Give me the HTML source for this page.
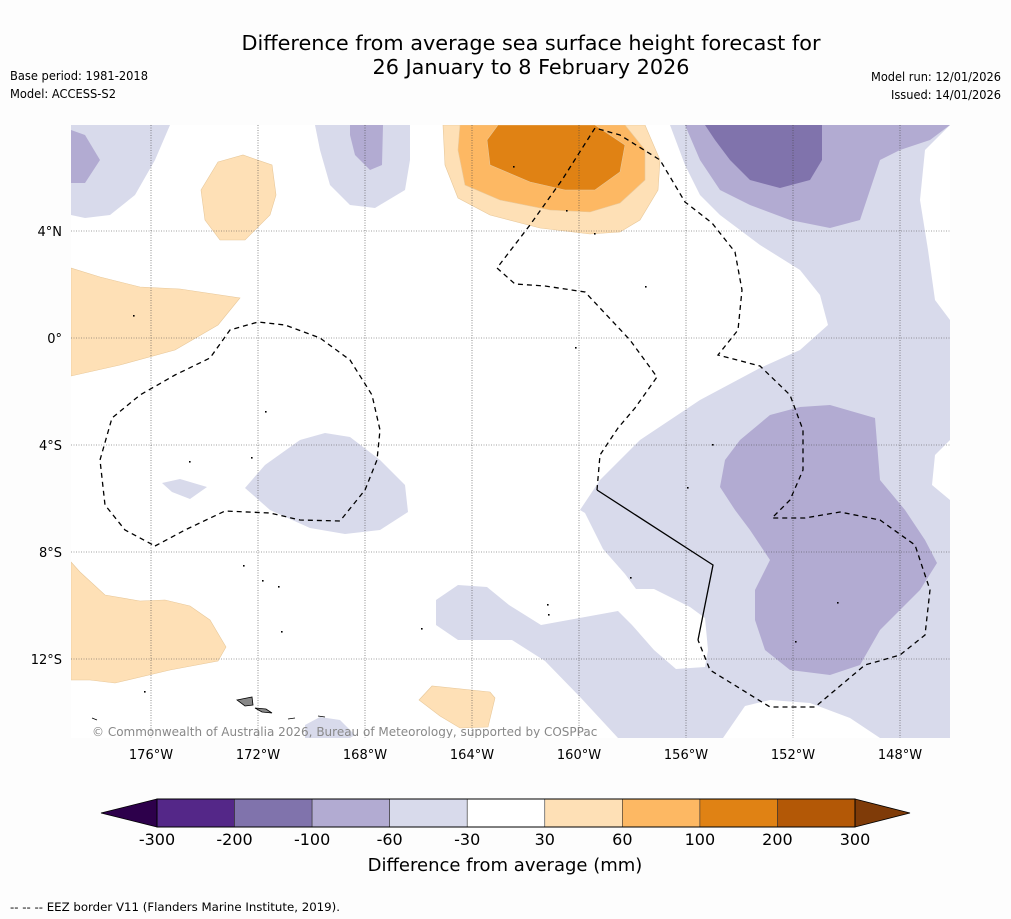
<!DOCTYPE html>
<html><head><meta charset="utf-8"><style>
body{margin:0;background:#fdfdfd;}
svg{display:block;font-family:"DejaVu Sans","Liberation Sans",sans-serif;}
</style></head><body>
<svg id="s" width="1011" height="919" viewBox="0 0 1011 919">
<rect width="1011" height="919" fill="#fdfdfd"/>
<text x="531" y="50" text-anchor="middle" font-size="20" textLength="579" lengthAdjust="spacingAndGlyphs">Difference from average sea surface height forecast for</text>
<text x="531" y="74" text-anchor="middle" font-size="20" textLength="317" lengthAdjust="spacingAndGlyphs">26 January to 8 February 2026</text>
<text x="10" y="80" font-size="12" textLength="138" lengthAdjust="spacingAndGlyphs">Base period: 1981-2018</text>
<text x="10" y="98" font-size="12" textLength="106" lengthAdjust="spacingAndGlyphs">Model: ACCESS-S2</text>
<text x="1001" y="81" font-size="12" text-anchor="end" textLength="130" lengthAdjust="spacingAndGlyphs">Model run: 12/01/2026</text>
<text x="1001" y="99" font-size="12" text-anchor="end" textLength="110" lengthAdjust="spacingAndGlyphs">Issued: 14/01/2026</text>
<defs><clipPath id="mc"><rect x="71" y="125" width="879" height="613"/></clipPath></defs>
<rect x="71" y="125" width="879" height="613" fill="#ffffff"/>
<g id="map" clip-path="url(#mc)"></g>
<g id="axes"></g>
<g id="cbar"></g>
<text x="505" y="871" text-anchor="middle" font-size="18">Difference from average (mm)</text>
<text x="10" y="911" font-size="11.5" textLength="330" lengthAdjust="spacingAndGlyphs">--  --  -- EEZ border V11 (Flanders Marine Institute, 2019).</text>
</svg>
<script>
// colorbar data
const levels=[-300,-200,-100,-60,-30,30,60,100,200,300];
const binColors=["#542788","#8073ac","#b2abd2","#d8daeb","#ffffff","#fee0b6","#fdb863","#e08214","#b35806"];
const extendColors=["#2d004b","#7f3b08"];
// axis ticks
const lonTicks=[-176,-172,-168,-164,-160,-156,-152,-148];
const latTicks=[4,0,-4,-8,-12];
const lonLabels=["176°W","172°W","168°W","164°W","160°W","156°W","152°W","148°W"];
const latLabels=["4°N","0°","4°S","8°S","12°S"];

const NS="http://www.w3.org/2000/svg";
function mk(t,a,p){const e=document.createElementNS(NS,t);for(const k in a)e.setAttribute(k,a[k]);p.appendChild(e);return e;}
const px=lon=>151+(lon+176)*26.75;
const py=lat=>338-lat*26.75;
const map=document.getElementById('map'),axes=document.getElementById('axes'),cb=document.getElementById('cbar');

// contour geometry (map-image coordinates)
const shapes=[
["light-lavender-right","#d8daeb",[670,125,950,125,925,150,920,200,928,250,935,300,950,320,950,440,935,455,932,485,950,500,950,738,880,738,850,718,810,703,770,700,745,706,723,738,618,738,581,698,545,661,512,640,458,640,436,625,436,600,458,585,487,587,509,605,541,625,618,611,632,625,654,650,676,669,705,667,708,650,705,618,690,607,654,589,636,589,625,574,603,549,585,513,580,510,600,480,640,440,700,400,760,368,800,350,828,325,820,295,800,270,760,245,720,215,700,195,685,165]],
["light-lavender-topleft","#d8daeb",[71,125,170,125,155,160,135,195,110,215,85,218,71,215]],
["mid-lavender-topleft","#b2abd2",[71,130,85,135,100,160,85,183,71,183]],
["light-lavender-topcenter","#d8daeb",[315,125,410,125,410,160,405,190,375,208,350,205,330,185,320,150]],
["mid-lavender-topcenter","#b2abd2",[350,125,383,125,382,165,370,170,355,155,350,135]],
["mid-lavender-topright","#b2abd2",[685,125,950,125,930,140,900,150,880,160,870,190,860,220,830,228,790,220,750,205,720,190,700,160]],
["dark-lavender-topright","#8073ac",[705,125,822,125,822,160,810,180,780,188,750,180,730,160,715,140]],
["mid-lavender-southeast","#b2abd2",[740,440,770,415,800,407,830,405,875,418,880,480,905,510,925,540,937,563,920,590,880,630,860,665,830,675,790,670,765,650,755,620,755,590,770,560,750,530,735,510,720,487,725,460]],
["light-lavender-center","#d8daeb",[245,488,265,465,300,440,325,433,350,437,380,460,405,485,408,512,380,530,345,534,310,528,270,510]],
["light-lavender-small","#d8daeb",[162,483,180,479,207,487,190,499,172,492]],
["light-lavender-bottom","#d8daeb",[305,725,320,717,340,720,355,735,350,738,305,738]],
["orange-light-west","#fee0b6",[71,268,100,277,140,287,180,289,240,298,218,325,175,350,120,365,71,376]],
["orange-light-north-west","#fee0b6",[201,190,218,162,243,155,272,165,276,195,270,215,245,240,220,240,205,220]],
["orange-light-southwest","#fee0b6",[71,562,80,572,105,595,140,601,165,600,190,606,210,620,226,647,218,661,170,670,115,683,90,680,71,680]],
["orange-light-south","#fee0b6",[419,700,432,686,490,692,495,698,488,727,460,728,440,716]],
["orange-light-north","#fee0b6",[443,125,645,125,660,160,658,190,640,220,620,232,590,234,540,228,490,215,458,198,445,165]],
["orange-mid-north","#fdb863",[460,125,625,125,645,150,645,180,620,203,590,212,550,210,500,200,465,185,458,150]],
["orange-dark-north","#e08214",[498,125,595,125,625,145,620,172,595,190,565,190,530,182,490,165,487,140]]
];
for(const [n,c,p] of shapes){
  let pts=[];for(let i=0;i<p.length;i+=2)pts.push(p[i]+','+p[i+1]);
  const e=mk('polygon',{points:pts.join(' '),fill:c,stroke:c==="#d8daeb"?"none":"#e8c89a","stroke-width":c.startsWith("#f")||c.startsWith("#e")?0.6:0},map);
  
  
}
// islands
const isl=[[237,700,252,697,253,705,245,706],[255,708,266,709,272,713,262,712],[288,719,295,718],[318,716,325,717],[92,718,97,720]];
isl.forEach((p,i)=>{let pts=[];for(let j=0;j<p.length;j+=2)pts.push(p[j]+','+p[j+1]);
  const e=mk('polygon',{points:pts.join(' '),fill:'#888',stroke:'#000','stroke-width':0.8},map);
  
  });
[[134,316],[266,412],[252,458],[190,462],[244,566],[263,581],[279,587],[282,632],[422,629],[548,605],[549,615],[631,578],[688,488],[713,445],[838,603],[796,642],[145,692],[595,234],[646,287],[514,167],[576,348],[567,211]].forEach(d=>{
  const e=mk('rect',{x:d[0]-1,y:d[1]-1,width:1.6,height:1.6,fill:'#000'},map);
  
  });
// grid
lonTicks.forEach(l=>{const e=mk('line',{x1:px(l),x2:px(l),y1:125,y2:738,stroke:'#444','stroke-width':0.6,'stroke-dasharray':'1,1.5'},map);
  });
latTicks.forEach(l=>{const e=mk('line',{x1:71,x2:950,y1:py(l),y2:py(l),stroke:'#444','stroke-width':0.6,'stroke-dasharray':'1,1.5'},map);
  });
// EEZ
const eez=[
[155,546,185,530,225,511,270,513,300,520,340,521,365,490,377,460,380,430,372,395,350,360,320,338,285,325,258,322,230,330,210,358,175,375,140,395,112,418,100,460,105,505,125,530,155,546],
[597,490,600,455,618,428,635,408,657,377,630,340,585,292,545,286,515,284,497,268,530,225,562,180,595,128,620,135,660,160,685,202,712,223,735,252,742,290,738,330,718,355,760,366,790,395,803,430,803,470,790,500,772,518,805,518,840,512,880,520,915,545,930,590,925,635,900,655,865,665,815,707,770,707,710,670,698,640]];
eez.forEach(p=>{let pts=[];for(let i=0;i<p.length;i+=2)pts.push(p[i]+','+p[i+1]);
  const e=mk('polyline',{points:pts.join(' '),fill:'none',stroke:'#000','stroke-width':1.3,'stroke-dasharray':'5,4'},map);
  });
{const e=mk('polyline',{points:'597,490 713,565 698,640',fill:'none',stroke:'#000','stroke-width':1.3},map);
 }
{const e=mk('text',{x:92,y:736,'font-size':12,fill:'#888'},map);e.textContent='© Commonwealth of Australia 2026, Bureau of Meteorology, supported by COSPPac';
 }
// axis labels
lonTicks.forEach((l,i)=>{const e=mk('text',{x:px(l),y:759,'text-anchor':'middle','font-size':13},axes);e.textContent=lonLabels[i];
  });
latTicks.forEach((l,i)=>{const e=mk('text',{x:62,y:py(l)+5,'text-anchor':'end','font-size':13},axes);e.textContent=latLabels[i];
  });
// colorbar
const cx0=157,cx1=855,cy0=799,cy1=827,bw=(cx1-cx0)/binColors.length;
binColors.forEach((c,i)=>{const e=mk('rect',{x:cx0+i*bw,y:cy0,width:bw,height:cy1-cy0,fill:c,stroke:'#333','stroke-width':0.6},cb);
  });
{const e=mk('polygon',{points:`${cx0},${cy0} 101,${(cy0+cy1)/2} ${cx0},${cy1}`,fill:extendColors[0],stroke:'#000','stroke-width':0.8},cb);
 }
{const e=mk('polygon',{points:`${cx1},${cy0} 910,${(cy0+cy1)/2} ${cx1},${cy1}`,fill:extendColors[1],stroke:'#000','stroke-width':0.8},cb);
 }
mk('rect',{x:cx0,y:cy0,width:cx1-cx0,height:cy1-cy0,fill:'none',stroke:'#000','stroke-width':1},cb);
levels.forEach((v,i)=>{const e=mk('text',{x:cx0+i*bw,y:845,'text-anchor':'middle','font-size':16},cb);e.textContent=v;
  });
</script>
</body></html>
